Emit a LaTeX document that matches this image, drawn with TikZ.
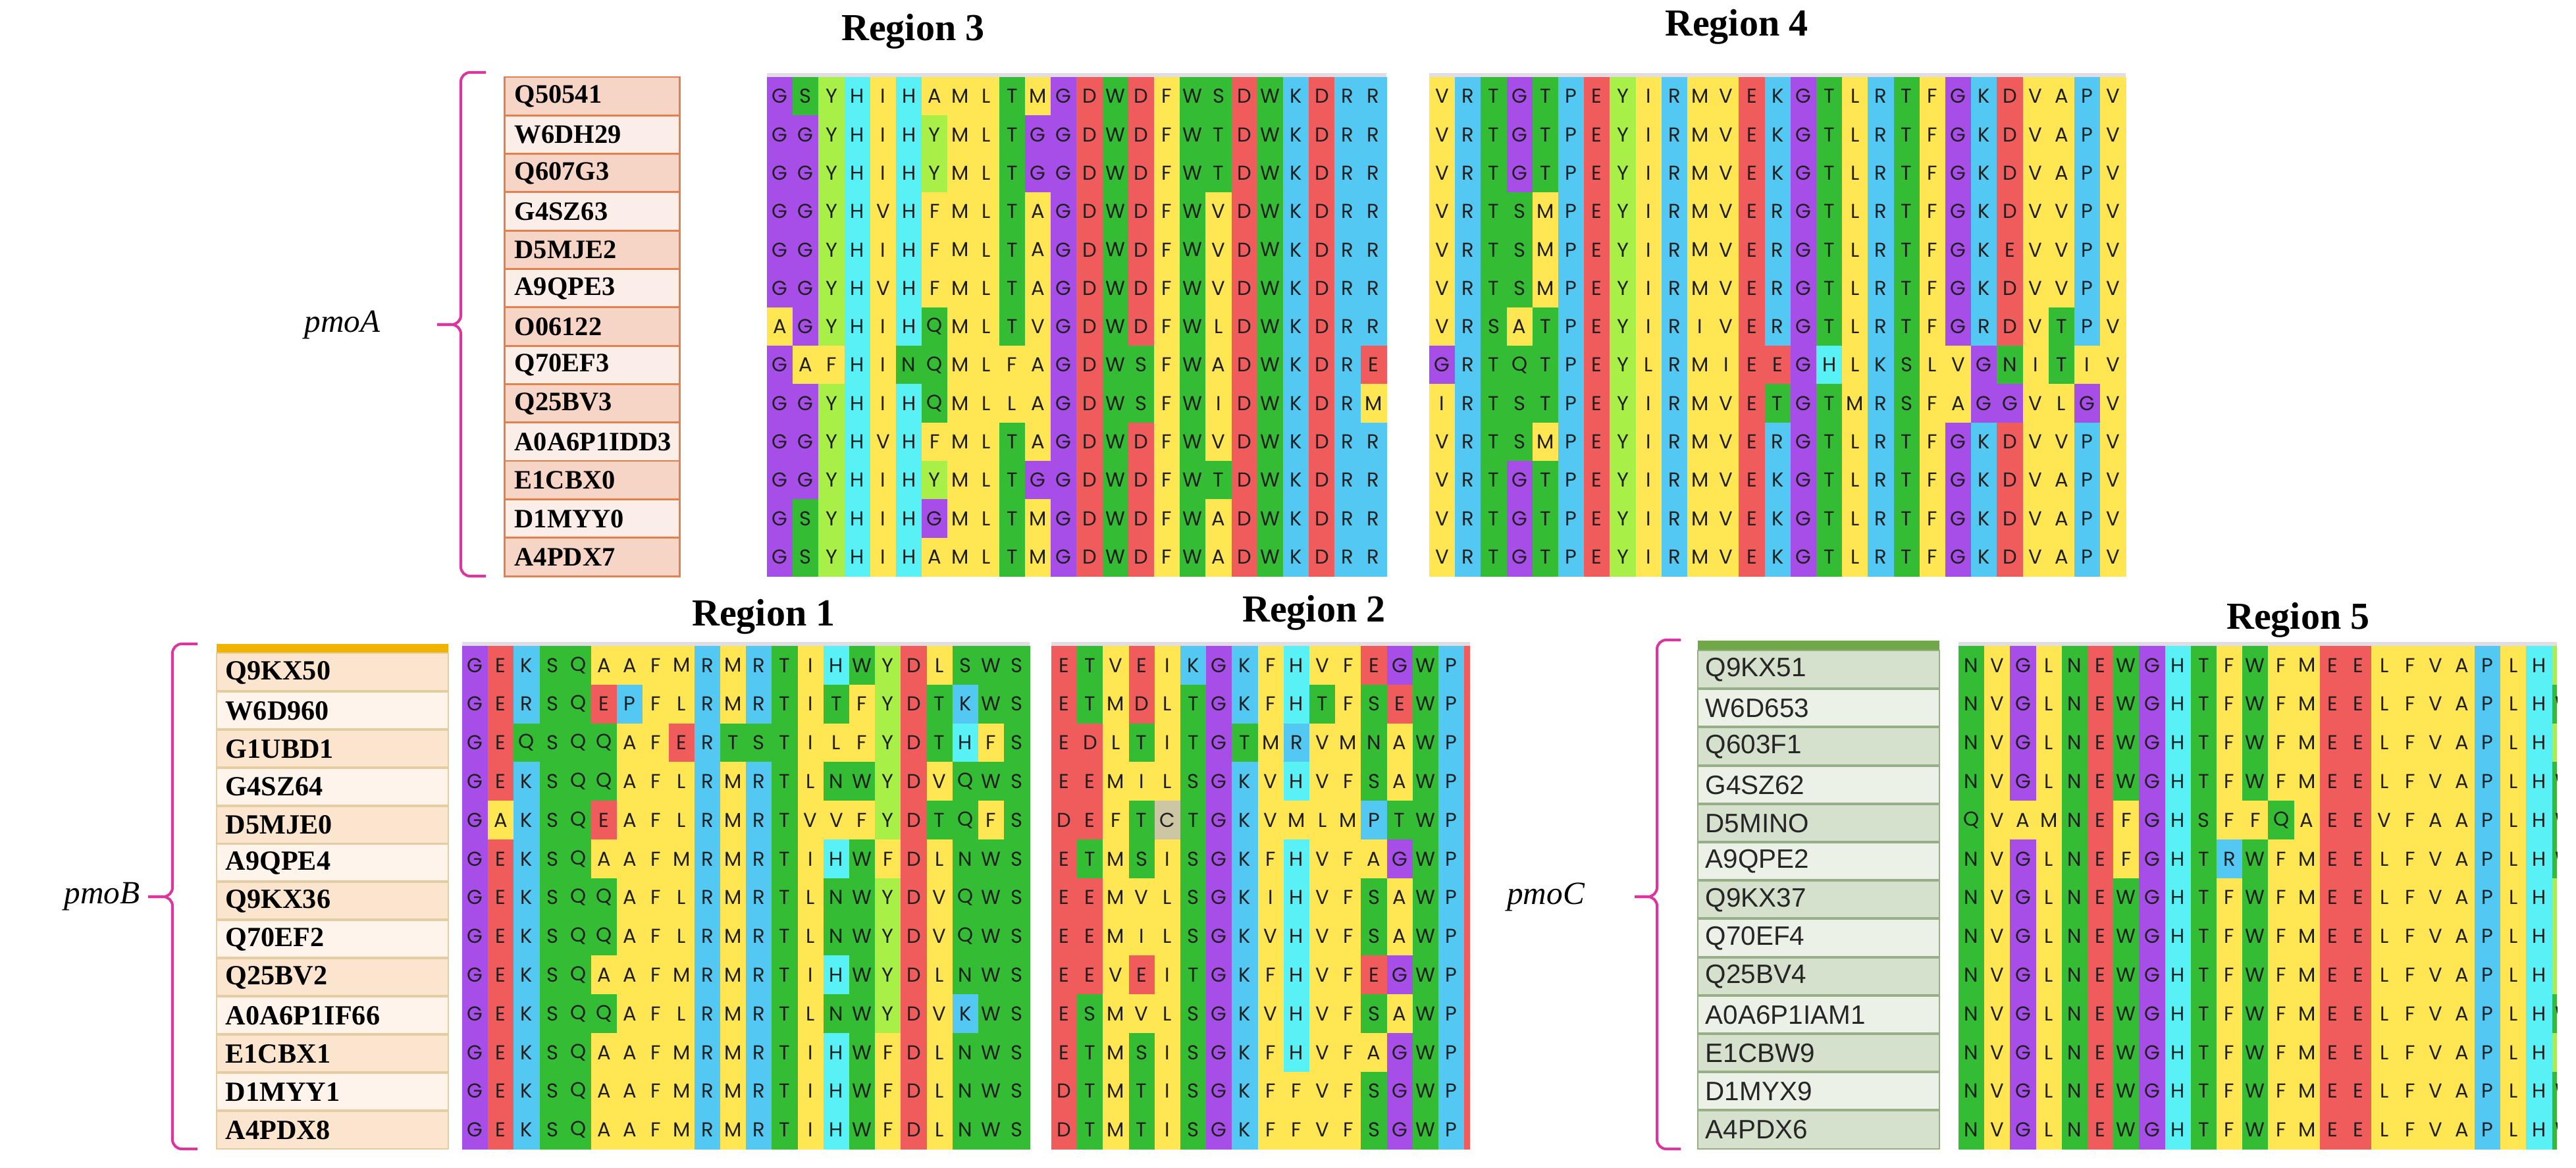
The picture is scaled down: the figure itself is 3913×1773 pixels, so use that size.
\documentclass[tikz,border=0pt]{standalone}
\usepackage{fontspec}
\setmainfont{Liberation Serif}
\newfontfamily\resfont{Poppins}
\newfontfamily\labsans{Liberation Sans}

\definecolor{aaG}{RGB}{168,78,232}
\definecolor{aaS}{RGB}{52,188,52}
\colorlet{aaT}{aaS}\colorlet{aaN}{aaS}\colorlet{aaQ}{aaS}\colorlet{aaW}{aaS}
\definecolor{aaY}{RGB}{168,240,72}
\definecolor{aaH}{RGB}{88,242,246}
\definecolor{aaR}{RGB}{82,200,242}
\colorlet{aaK}{aaR}\colorlet{aaP}{aaR}
\definecolor{aaD}{RGB}{240,92,92}
\colorlet{aaE}{aaD}
\definecolor{aaA}{RGB}{255,230,82}
\colorlet{aaV}{aaA}\colorlet{aaI}{aaA}\colorlet{aaL}{aaA}\colorlet{aaM}{aaA}\colorlet{aaF}{aaA}
\definecolor{aaC}{RGB}{204,198,164}
\definecolor{rulerc}{RGB}{226,220,228}
\definecolor{bracemag}{RGB}{222,52,158}
\definecolor{pAo}{RGB}{246,212,198}
\definecolor{pAe}{RGB}{251,237,231}
\definecolor{pAline}{RGB}{226,128,80}
\definecolor{pBo}{RGB}{252,229,207}
\definecolor{pBe}{RGB}{254,244,236}
\definecolor{pBline}{RGB}{228,205,160}
\definecolor{pBbar}{RGB}{240,180,0}
\definecolor{pCo}{RGB}{214,225,205}
\definecolor{pCe}{RGB}{236,241,232}
\definecolor{pCline}{RGB}{150,175,135}
\definecolor{pCbar}{RGB}{112,168,72}

\newcount\cellidx
\newcommand\seqrow[5]{\def\sqname{#1}\def\sqx{#2}\def\sqy{(#3+(#4-1)*\rh)}\global\cellidx=0\relax\seqrowi#5\relax}
\def\seqrowi#1{%
  \ifx\relax#1\else
    \global\advance\cellidx by 1\relax
    \fill[aa#1] ({\sqx+(\the\cellidx-1)*\cw},{\sqy}) rectangle ++({\cw+0.8},{\rh+0.8});%
    \node[res] (\sqname-\the\cellidx) at ({\sqx+(\the\cellidx-0.5)*\cw},{\sqy+0.5*\rh}) {#1};%
    \expandafter\seqrowi
  \fi}

\tikzset{
  res/.style={font=\resfont\fontsize{8.7}{10}\selectfont, text=black!88, inner sep=0pt},
  labA/.style={font=\bfseries\fontsize{11.5}{13}\selectfont, inner sep=0pt, anchor=west},
  labB/.style={font=\bfseries\fontsize{12}{14}\selectfont, inner sep=0pt, anchor=west},
  labC/.style={font=\labsans\fontsize{11.5}{13}\selectfont, text=black!85, inner sep=0pt, anchor=west},
  ttl/.style={font=\bfseries\fontsize{16.5}{19}\selectfont, anchor=base, inner sep=0pt},
  gene/.style={font=\itshape\fontsize{14}{16}\selectfont, inner sep=0pt},
  brace/.style={draw=bracemag, line width=1.15pt, rounded corners=4pt},
}

\begin{document}
\begin{tikzpicture}[x=0.01cm,y=-0.01cm]
\useasboundingbox (0,0) rectangle (3913,1773);
\fill[white] (0,0) rectangle (3913,1773);

% ---------- titles ----------
\node[ttl] (t3) at (1387,62) {Region 3};
\node[ttl] (t4) at (2638,55) {Region 4};
\node[ttl] (t1) at (1160,950) {Region 1};
\node[ttl] (t2) at (1996,944) {Region 2};
\node[ttl] (t5) at (3491,955) {Region 5};

% ---------- gene labels and braces ----------
\node[gene] (gA) at (520,493) {pmoA};
\node[gene] (gB) at (155,1362) {pmoB};
\node[gene] (gC) at (2348,1362) {pmoC};

\draw[brace] (738,110) -- (700,110) -- (700,493) -- (664,493);
\draw[brace] (664,493) -- (700,493) -- (700,875) -- (738,875);
\draw[brace] (300,978) -- (262,978) -- (262,1362) -- (225,1362);
\draw[brace] (225,1362) -- (262,1362) -- (262,1745) -- (300,1745);
\draw[brace] (2553,972) -- (2517,972) -- (2517,1362) -- (2483,1362);
\draw[brace] (2483,1362) -- (2517,1362) -- (2517,1745) -- (2553,1745);

% ---------- pmoA accession box ----------
\foreach \t [count=\i] in {Q50541,W6DH29,Q607G3,G4SZ63,D5MJE2,A9QPE3,O06122,Q70EF3,Q25BV3,A0A6P1IDD3,E1CBX0,D1MYY0,A4PDX7}{
  \pgfmathsetmacro\yy{117+(\i-1)*58.3}
  \ifodd\i\colorlet{rowc}{pAo}\else\colorlet{rowc}{pAe}\fi
  \fill[rowc] (766,\yy) rectangle (1032,\yy+58.3);
  \node[labA] (a\i) at (781,\yy+29.6) {\t};
}
\foreach \i in {1,...,12} \draw[pAline, line width=0.85pt] (766,117+\i*58.3) -- (1032,117+\i*58.3);
\draw[pAline, line width=0.85pt] (766,117) rectangle (1032,875);

% ---------- pmoB accession box ----------
\fill[pBbar] (329,978) rectangle (681,992);
\foreach \t [count=\i] in {Q9KX50,W6D960,G1UBD1,G4SZ64,D5MJE0,A9QPE4,Q9KX36,Q70EF2,Q25BV2,A0A6P1IF66,E1CBX1,D1MYY1,A4PDX8}{
  \pgfmathsetmacro\yy{992+(\i-1)*57.9}
  \ifodd\i\colorlet{rowc}{pBo}\else\colorlet{rowc}{pBe}\fi
  \fill[rowc] (329,\yy) rectangle (681,\yy+57.9);
  \node[labB] (b\i) at (342,\yy+29.5) {\t};
}
\foreach \i in {1,...,12} \draw[pBline, line width=1.1pt] (329,992+\i*57.9) -- (681,992+\i*57.9);
\draw[pBline, line width=0.6pt] (329,992) rectangle (681,1745);

% ---------- pmoC accession box ----------
\fill[pCbar] (2579,973) rectangle (2946,988);
\foreach \t [count=\i] in {Q9KX51,W6D653,Q603F1,G4SZ62,D5MINO,A9QPE2,Q9KX37,Q70EF4,Q25BV4,A0A6P1IAM1,E1CBW9,D1MYX9,A4PDX6}{
  \pgfmathsetmacro\yy{988+(\i-1)*58.2}
  \ifodd\i\colorlet{rowc}{pCo}\else\colorlet{rowc}{pCe}\fi
  \fill[rowc] (2579,\yy) rectangle (2946,\yy+58.2);
  \node[labC] (c\i) at (2590,\yy+29.5) {\t};
}
\foreach \i in {1,...,12} \draw[pCline, line width=1.1pt] (2579,988+\i*58.2) -- (2946,988+\i*58.2);
\draw[pCline, line width=0.6pt] (2579,988) rectangle (2946,1745);

% ---------- Region 3 ----------
\def\cw{39.2}\def\rh{58.3}
\fill[rulerc] (1165,111) rectangle (2106,117.5);
\seqrow{rc-1}{1165}{117}{1}{GSYHIHAMLTMGDWDFWSDWKDRR}
\seqrow{rc-2}{1165}{117}{2}{GGYHIHYMLTGGDWDFWTDWKDRR}
\seqrow{rc-3}{1165}{117}{3}{GGYHIHYMLTGGDWDFWTDWKDRR}
\seqrow{rc-4}{1165}{117}{4}{GGYHVHFMLTAGDWDFWVDWKDRR}
\seqrow{rc-5}{1165}{117}{5}{GGYHIHFMLTAGDWDFWVDWKDRR}
\seqrow{rc-6}{1165}{117}{6}{GGYHVHFMLTAGDWDFWVDWKDRR}
\seqrow{rc-7}{1165}{117}{7}{AGYHIHQMLTVGDWDFWLDWKDRR}
\seqrow{rc-8}{1165}{117}{8}{GAFHINQMLFAGDWSFWADWKDRE}
\seqrow{rc-9}{1165}{117}{9}{GGYHIHQMLLAGDWSFWIDWKDRM}
\seqrow{rc-10}{1165}{117}{10}{GGYHVHFMLTAGDWDFWVDWKDRR}
\seqrow{rc-11}{1165}{117}{11}{GGYHIHYMLTGGDWDFWTDWKDRR}
\seqrow{rc-12}{1165}{117}{12}{GSYHIHGMLTMGDWDFWADWKDRR}
\seqrow{rc-13}{1165}{117}{13}{GSYHIHAMLTMGDWDFWADWKDRR}

% ---------- Region 4 ----------
\fill[rulerc] (2171,111) rectangle (3229,117.5);
\seqrow{rd-1}{2171}{117}{1}{VRTGTPEYIRMVEKGTLRTFGKDVAPV}
\seqrow{rd-2}{2171}{117}{2}{VRTGTPEYIRMVEKGTLRTFGKDVAPV}
\seqrow{rd-3}{2171}{117}{3}{VRTGTPEYIRMVEKGTLRTFGKDVAPV}
\seqrow{rd-4}{2171}{117}{4}{VRTSMPEYIRMVERGTLRTFGKDVVPV}
\seqrow{rd-5}{2171}{117}{5}{VRTSMPEYIRMVERGTLRTFGKEVVPV}
\seqrow{rd-6}{2171}{117}{6}{VRTSMPEYIRMVERGTLRTFGKDVVPV}
\seqrow{rd-7}{2171}{117}{7}{VRSATPEYIRIVERGTLRTFGRDVTPV}
\seqrow{rd-8}{2171}{117}{8}{GRTQTPEYLRMIEEGHLKSLVGNITIV}
\seqrow{rd-9}{2171}{117}{9}{IRTSTPEYIRMVETGTMRSFAGGVLGV}
\seqrow{rd-10}{2171}{117}{10}{VRTSMPEYIRMVERGTLRTFGKDVVPV}
\seqrow{rd-11}{2171}{117}{11}{VRTGTPEYIRMVEKGTLRTFGKDVAPV}
\seqrow{rd-12}{2171}{117}{12}{VRTGTPEYIRMVEKGTLRTFGKDVAPV}
\seqrow{rd-13}{2171}{117}{13}{VRTGTPEYIRMVEKGTLRTFGKDVAPV}

% ---------- Region 1 ----------
\def\rh{58.8}
\fill[rulerc] (702,975) rectangle (1564,981.5);
\seqrow{ra-1}{702}{981}{1}{GEKSQAAFMRMRTIHWYDLSWS}
\seqrow{ra-2}{702}{981}{2}{GERSQEPFLRMRTITFYDTKWS}
\seqrow{ra-3}{702}{981}{3}{GEQSQQAFERTSTILFYDTHFS}
\seqrow{ra-4}{702}{981}{4}{GEKSQQAFLRMRTLNWYDVQWS}
\seqrow{ra-5}{702}{981}{5}{GAKSQEAFLRMRTVVFYDTQFS}
\seqrow{ra-6}{702}{981}{6}{GEKSQAAFMRMRTIHWFDLNWS}
\seqrow{ra-7}{702}{981}{7}{GEKSQQAFLRMRTLNWYDVQWS}
\seqrow{ra-8}{702}{981}{8}{GEKSQQAFLRMRTLNWYDVQWS}
\seqrow{ra-9}{702}{981}{9}{GEKSQAAFMRMRTIHWYDLNWS}
\seqrow{ra-10}{702}{981}{10}{GEKSQQAFLRMRTLNWYDVKWS}
\seqrow{ra-11}{702}{981}{11}{GEKSQAAFMRMRTIHWFDLNWS}
\seqrow{ra-12}{702}{981}{12}{GEKSQAAFMRMRTIHWFDLNWS}
\seqrow{ra-13}{702}{981}{13}{GEKSQAAFMRMRTIHWFDLNWS}

% ---------- Region 2 ----------
\fill[rulerc] (1597,975) rectangle (2233,981.5);
\begin{scope}
\clip (1597,975) rectangle (2233,1760);
\seqrow{rb-1}{1597}{981}{1}{ETVEIKGKFHVFEGWPE}
\seqrow{rb-2}{1597}{981}{2}{ETMDLTGKFHTFSEWPE}
\seqrow{rb-3}{1597}{981}{3}{EDLTITGTMRVMNAWPE}
\seqrow{rb-4}{1597}{981}{4}{EEMILSGKVHVFSAWPE}
\seqrow{rb-5}{1597}{981}{5}{DEFTCTGKVMLMPTWPE}
\seqrow{rb-6}{1597}{981}{6}{ETMSISGKFHVFAGWPE}
\seqrow{rb-7}{1597}{981}{7}{EEMVLSGKIHVFSAWPE}
\seqrow{rb-8}{1597}{981}{8}{EEMILSGKVHVFSAWPE}
\seqrow{rb-9}{1597}{981}{9}{EEVEITGKFHVFEGWPE}
\seqrow{rb-10}{1597}{981}{10}{ESMVLSGKVHVFSAWPE}
\seqrow{rb-11}{1597}{981}{11}{ETMSISGKFHVFAGWPE}
\seqrow{rb-12}{1597}{981}{12}{DTMTISGKFFVFSGWPE}
\seqrow{rb-13}{1597}{981}{13}{DTMTISGKFFVFSGWPE}
\end{scope}

% ---------- Region 5 ----------
\fill[rulerc] (2975,975) rectangle (3884,981.5);
\begin{scope}
\clip (2975,975) rectangle (3884,1760);
\seqrow{re-1}{2975}{981}{1}{NVGLNEWGHTFWFMEELFVAPLHY}
\seqrow{re-2}{2975}{981}{2}{NVGLNEWGHTFWFMEELFVAPLHW}
\seqrow{re-3}{2975}{981}{3}{NVGLNEWGHTFWFMEELFVAPLHY}
\seqrow{re-4}{2975}{981}{4}{NVGLNEWGHTFWFMEELFVAPLHW}
\seqrow{re-5}{2975}{981}{5}{QVAMNEFGHSFFQAEEVFAAPLHW}
\seqrow{re-6}{2975}{981}{6}{NVGLNEFGHTRWFMEELFVAPLHW}
\seqrow{re-7}{2975}{981}{7}{NVGLNEWGHTFWFMEELFVAPLHY}
\seqrow{re-8}{2975}{981}{8}{NVGLNEWGHTFWFMEELFVAPLHY}
\seqrow{re-9}{2975}{981}{9}{NVGLNEWGHTFWFMEELFVAPLHY}
\seqrow{re-10}{2975}{981}{10}{NVGLNEWGHTFWFMEELFVAPLHW}
\seqrow{re-11}{2975}{981}{11}{NVGLNEWGHTFWFMEELFVAPLHY}
\seqrow{re-12}{2975}{981}{12}{NVGLNEWGHTFWFMEELFVAPLHW}
\seqrow{re-13}{2975}{981}{13}{NVGLNEWGHTFWFMEELFVAPLHW}
\end{scope}
\end{tikzpicture}
\end{document}
